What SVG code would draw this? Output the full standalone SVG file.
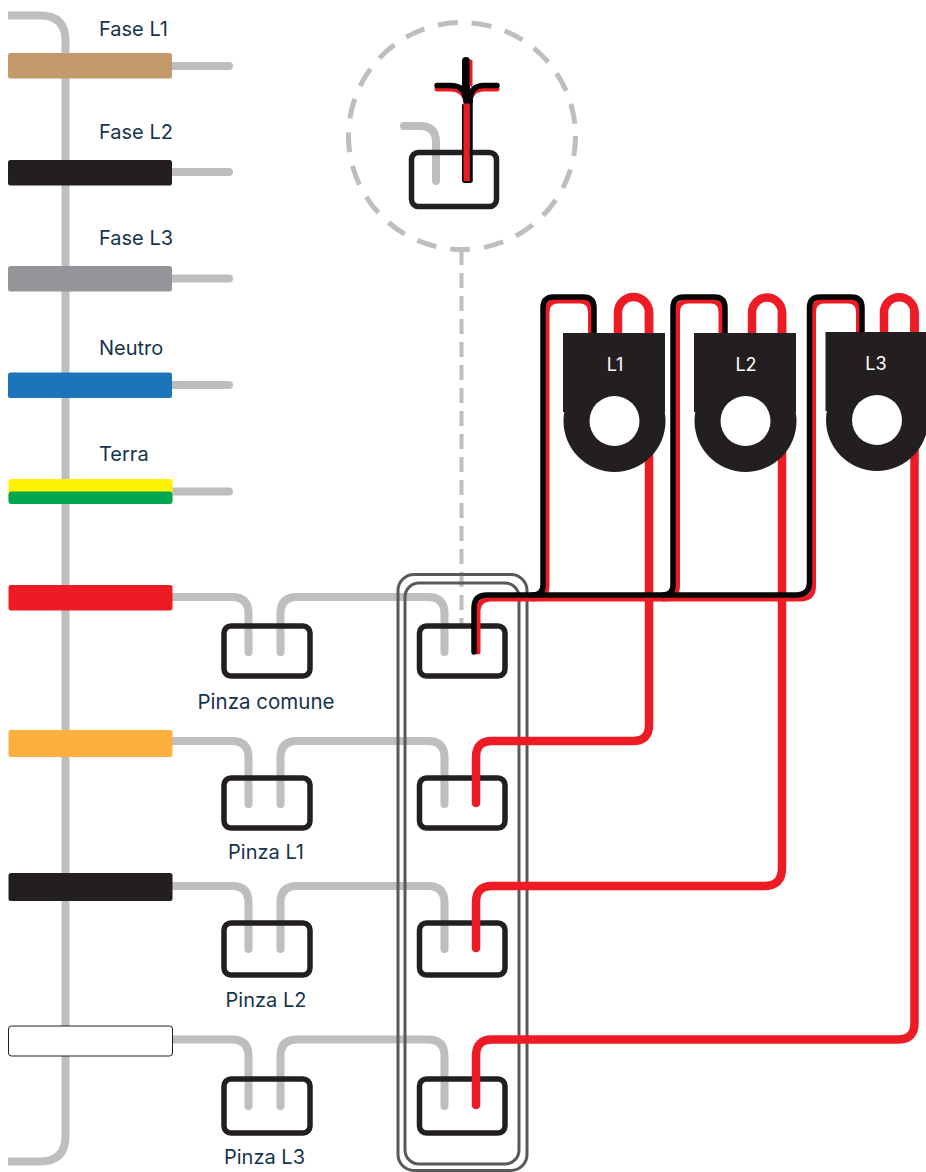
<svg xmlns="http://www.w3.org/2000/svg" width="926" height="1172" viewBox="0 0 926 1172">
<style>
.g{fill:none;stroke:#bcbec0;stroke-width:8;stroke-linecap:round;stroke-linejoin:round}
.bus{stroke-linecap:butt}
.d{fill:none;stroke:#bcbec0;stroke-linecap:butt}
.r{fill:none;stroke:#ed1c24;stroke-width:8.500;stroke-linecap:round}
.k{fill:none;stroke:#050505;stroke-width:5.500;stroke-linecap:round}
.rt{fill:none;stroke:#ed1c24;stroke-width:5;stroke-linecap:round}
.box{fill:none;stroke:#231f20;stroke-width:5.500}
.fr{fill:none;stroke:#58595b;stroke-width:3}
.t{font-family:"Inter","Liberation Sans",sans-serif;font-size:20px;fill:#16344c}
.m{text-anchor:middle}
.w{font-family:"Inter","Liberation Sans",sans-serif;font-size:18px;fill:#fff;text-anchor:middle}
.c{fill:#231f20}
</style>
<defs>
<g id="clamp"><rect class="c" width="102" height="79"/><circle class="c" cx="51.500" cy="88" r="51"/><circle cx="51.500" cy="88" r="25" fill="#fff"/></g>
</defs>
<g id="connectors-passive">
<path class="g bus" d="M8 15.500H40Q65.500 15.500 65.500 41V1136Q65.500 1161.500 40 1161.500H8"/>
<path class="g" d="M170 66H229M170 172H229M170 278.500H229M170 385H229M170 491.500H229"/>
<path class="g" d="M170 597H232Q248.500 597 248.500 613.500V652M280.500 652V613.500Q280.500 597 297 597H428Q444.500 597 444.500 613.500V652"/>
<path class="g" d="M170 741H232Q248.500 741 248.500 757.500V804M280.500 804V757.500Q280.500 741 297 741H428Q444.500 741 444.500 757.500V804"/>
<path class="g" d="M170 886H232Q248.500 886 248.500 902.500V949M280.500 949V902.500Q280.500 886 297 886H428Q444.500 886 444.500 902.500V949"/>
<path class="g" d="M170 1039.500H232Q248.500 1039.500 248.500 1056V1106M280.500 1106V1056Q280.500 1039.500 297 1039.500H428Q444.500 1039.500 444.500 1056V1106"/>
<path class="g" d="M404 126H420Q436 126 436 142V181"/>
<circle class="d" cx="462" cy="136" r="113.500" stroke-width="5" stroke-dasharray="20 14"/>
<path class="d" d="M461.500 250V625" stroke-width="4" stroke-dasharray="15 8"/>
</g>
<g id="bar-fase-l1"><rect x="8" y="53" width="164" height="25.500" rx="2.500" fill="#c49a6c"/><text class="t" x="99" y="36">Fase L1</text></g>
<g id="bar-fase-l2"><rect x="8" y="160" width="164" height="25.500" rx="2.500" fill="#231f20"/><text class="t" x="99" y="139">Fase L2</text></g>
<g id="bar-fase-l3"><rect x="8" y="266" width="164" height="25.500" rx="2.500" fill="#939598"/><text class="t" x="99" y="245">Fase L3</text></g>
<g id="bar-neutro"><rect x="8" y="372.500" width="164" height="25.500" rx="2.500" fill="#1c75bc"/><text class="t" x="99" y="355">Neutro</text></g>
<g id="bar-terra"><rect x="8.500" y="479" width="164" height="25" rx="3" fill="#fff200"/><rect x="8.500" y="491.500" width="164" height="12.500" rx="3" fill="#00a651"/><text class="t" x="99" y="461">Terra</text></g>
<g id="bar-red"><rect x="8.500" y="585" width="164" height="25.500" rx="2.500" fill="#ed1c24"/></g>
<g id="bar-orange"><rect x="8.500" y="730" width="164" height="27" rx="2.500" fill="#fbb040"/></g>
<g id="bar-black"><rect x="8.500" y="873" width="164" height="28" rx="2.500" fill="#231f20"/></g>
<g id="bar-white"><rect x="8.500" y="1026" width="164" height="30" rx="3" fill="#fff" stroke="#231f20" stroke-width="1"/></g>
<g id="pinza-comune"><rect class="box" x="224" y="626" width="86" height="50" rx="7"/><text class="t m" x="266" y="709" font-size="20.500" style="font-size:20.500px">Pinza comune</text></g>
<g id="pinza-l1"><rect class="box" x="224" y="778" width="86" height="50" rx="7"/><text class="t m" x="266" y="859">Pinza L1</text></g>
<g id="pinza-l2"><rect class="box" x="224" y="923" width="86" height="52" rx="7"/><text class="t m" x="266" y="1007">Pinza L2</text></g>
<g id="pinza-l3"><rect class="box" x="224" y="1079" width="86" height="54" rx="7"/><text class="t m" x="264.500" y="1164">Pinza L3</text></g>
<g id="strumento-comune"><rect class="box" x="419.500" y="626" width="85.500" height="50" rx="7"/></g>
<g id="strumento-l1"><rect class="box" x="419.500" y="778" width="85.500" height="50" rx="7"/></g>
<g id="strumento-l2"><rect class="box" x="419.500" y="923" width="85.500" height="52" rx="7"/></g>
<g id="strumento-l3"><rect class="box" x="419.500" y="1079" width="85.500" height="54" rx="7"/></g>
<g id="dettaglio"><rect class="box" x="411.500" y="152.500" width="85" height="54" rx="7"/></g>
<g id="cornice"><rect class="fr" x="398" y="574.500" width="129" height="596" rx="16"/><rect class="fr" x="405" y="583" width="114" height="581" rx="14"/></g>
<g id="connectors-live">
<path class="r" d="M649 313V725Q649 741 633 741H492Q476 741 476 757V803"/>
<path class="r" d="M782 313V868Q782 886 764 886H492Q476 886 476 902V948"/>
<path class="r" d="M914.500 313V1023Q914.500 1039.500 898 1039.500H492Q476 1039.500 476 1056V1105"/>
<path class="r" d="M618 335V312.500A15.500 15.500 0 0 1 649 312.500V335"/>
<path class="r" d="M752 335V312.500A15 15 0 0 1 782 312.500V335"/>
<path class="r" d="M884 335V312.500A15.250 15.250 0 0 1 914.500 312.500V335"/>
<g id="cavo-rosso">
<path class="rt" d="M478 652V612Q478 599 491 599H800Q813.500 599 813.500 586V312Q813.500 301 824 301H848Q858.500 301 858.500 312V335"/>
<path class="rt" d="M533 599Q547 599 547 585V312Q547 301 558 301H580Q590.500 301 590.500 312V335"/>
<path class="rt" d="M663 599Q677.500 599 677.500 585V312Q677.500 301 688 301H711Q721 301 721 312V335"/>
</g>
<g id="cavo-nero">
<path class="k" d="M474 652V608Q474 595 487 595H796Q809.500 595 809.500 582V308Q809.500 297 820 297H851Q862 297 862 308V335"/>
<path class="k" d="M533 595Q543 595 543 585V308Q543 297 554 297H583Q594 297 594 308V335"/>
<path class="k" d="M663 595Q673 595 673 585V308Q673 297 684 297H714Q725 297 725 308V335"/>
</g>
<g id="dettaglio-cavi">
<path class="rt" d="M437 89H450Q466 89 466 105" stroke-width="3"/>
<path class="rt" d="M497 89H484Q470 89 470 103" stroke-width="3"/>
<path class="k" d="M437 85.500H450Q466 85.500 466 101"/>
<path class="k" d="M497 85.500H484Q470 85.500 470 101"/>
<path class="k" d="M466 61V95" style="stroke-width:8"/>
<path class="rt" d="M471 61V85" style="stroke-width:3"/>
<path class="k" d="M471 100V181" style="stroke-width:3.500"/>
<path class="k" d="M463 105V181" style="stroke-width:2"/>
<path class="rt" d="M466.500 104V181" style="stroke-width:6;stroke-linecap:butt"/>
<path class="k" d="M464 182H470" style="stroke-width:2"/>
</g>
</g>
<g id="pinza-amperometrica-l1"><use href="#clamp" x="563" y="333"/><text class="w" x="615" y="371">L1</text></g>
<g id="pinza-amperometrica-l2"><use href="#clamp" x="694" y="333"/><text class="w" x="746" y="371">L2</text></g>
<g id="pinza-amperometrica-l3"><use href="#clamp" x="825.500" y="332"/><text class="w" x="876" y="370">L3</text></g>
</svg>
